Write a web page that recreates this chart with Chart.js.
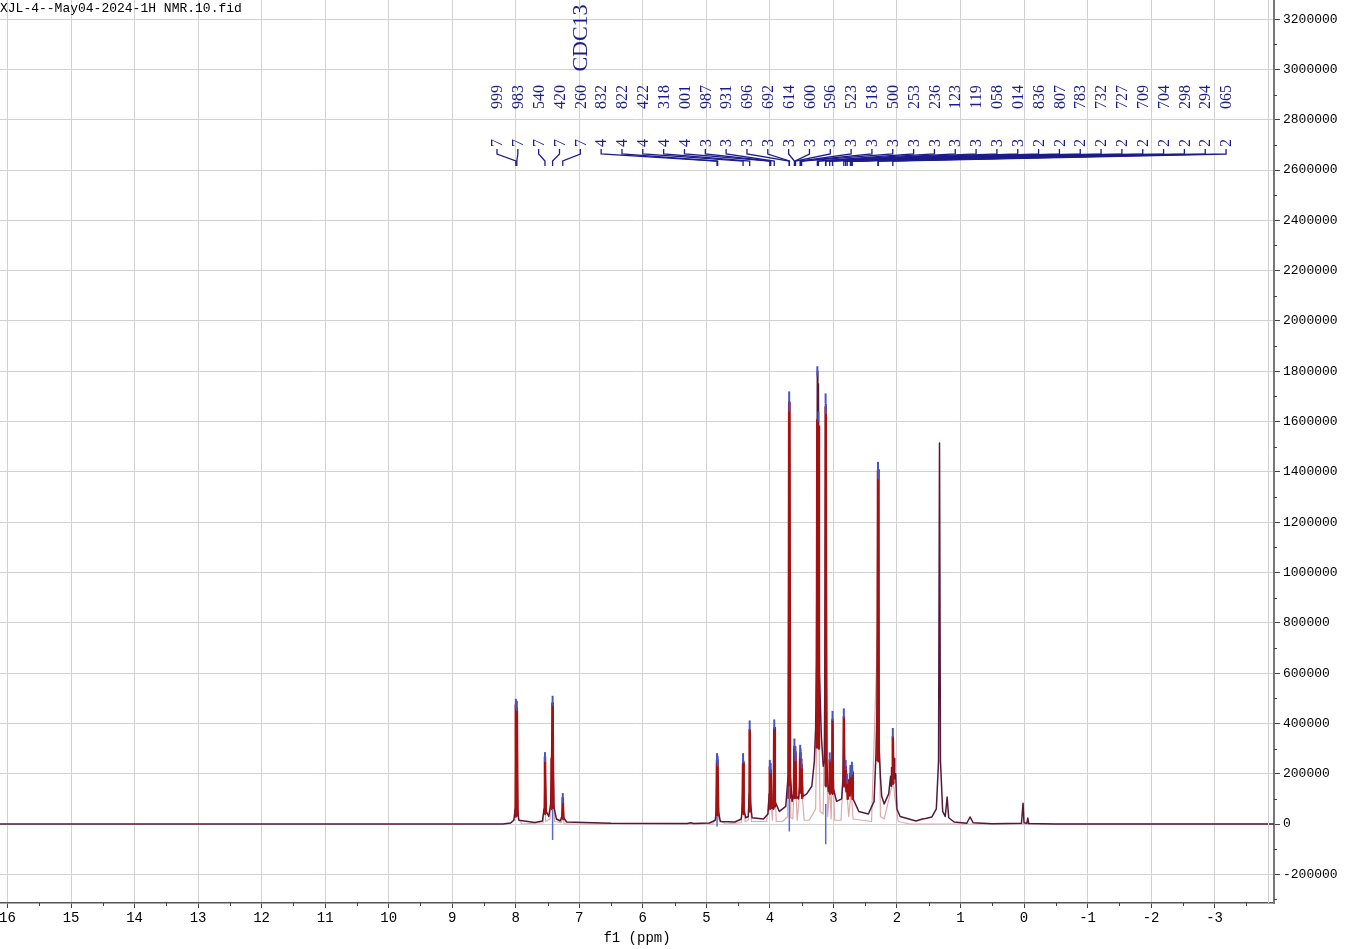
<!DOCTYPE html>
<html>
<head>
<meta charset="utf-8">
<script src="https://cdn.jsdelivr.net/npm/chart.js@4.4.1/dist/chart.umd.min.js"></script>
<style>
html, body { margin: 0; padding: 0; background: #fff; }
</style>
</head>
<body>
<canvas id="nmr" width="1360" height="949"></canvas>
<script>
const fileName = "XJL-4--May04-2024-1H NMR.10.fid";
const solventLabel = "CDC13";

// axis ticks
const ppmTicks = [16, 15, 14, 13, 12, 11, 10, 9, 8, 7, 6, 5, 4, 3, 2, 1, 0, -1, -2, -3];
const intensityTicks = [-200000, 0, 200000, 400000, 600000, 800000, 1000000, 1200000, 1400000, 1600000,
    1800000, 2000000, 2200000, 2400000, 2600000, 2800000, 3000000, 3200000];

// picked peaks (ppm) and their heights
const peakShifts = [7.999, 7.983, 7.540, 7.420, 7.260, 4.832, 4.822, 4.422, 4.318, 4.001, 3.987, 3.931,
    3.696, 3.692, 3.614, 3.600, 3.596, 3.523, 3.518, 3.500, 3.253, 3.236, 3.123, 3.119, 3.058, 3.014,
    2.836, 2.807, 2.783, 2.732, 2.727, 2.709, 2.704, 2.298, 2.294, 2.065];
const peakHeights = [478000, 470000, 266000, 490000, 103000, 262000, 250000, 262000, 392000, 235000, 222000, 396000,
    1700000, 1660000, 320000, 290000, 270000, 295000, 280000, 240000, 1800000, 1620000, 1692000, 1650000, 265000, 430000,
    440000, 235000, 180000, 215000, 205000, 228000, 215000, 1420000, 1390000, 362000];

// measured spectrum [ppm, intensity]
const spectrum = [
    [16.2, 0], [8.2, 0], [8.08, 4000], [8.03, 15000], [8.008, 60000], [7.999, 470000], [7.991, 120000],
    [7.983, 460000], [7.975, 60000], [7.95, 15000], [7.7, 6000], [7.58, 12000], [7.555, 60000],
    [7.545, 200000], [7.540, 266000], [7.532, 150000], [7.52, 50000], [7.48, 30000], [7.45, 80000],
    [7.435, 280000], [7.425, 480000], [7.415, 300000], [7.40, 70000], [7.36, 20000], [7.30, 12000],
    [7.275, 30000], [7.260, 103000], [7.245, 25000], [7.2, 8000], [6.5, 3000], [5.3, 2000], [5.25, 5000],
    [5.2, 2000], [4.95, 4000], [4.86, 15000], [4.84, 60000], [4.832, 254000], [4.827, 120000],
    [4.822, 240000], [4.81, 50000], [4.78, 10000], [4.55, 8000], [4.45, 20000], [4.43, 80000],
    [4.422, 250000], [4.41, 60000], [4.38, 25000], [4.34, 30000], [4.325, 120000], [4.318, 374000],
    [4.31, 90000], [4.28, 25000], [4.1, 20000], [4.03, 40000], [4.01, 120000], [4.001, 225000],
    [3.994, 130000], [3.987, 210000], [3.97, 70000], [3.95, 60000], [3.938, 120000], [3.931, 382000],
    [3.92, 90000], [3.85, 50000], [3.75, 70000], [3.71, 200000], [3.696, 1680000], [3.692, 1640000],
    [3.68, 200000], [3.65, 90000], [3.625, 120000], [3.614, 306000], [3.605, 200000], [3.600, 290000],
    [3.596, 266000], [3.58, 110000], [3.55, 100000], [3.53, 150000], [3.523, 282000], [3.518, 270000],
    [3.51, 160000], [3.500, 235000], [3.48, 110000], [3.42, 120000], [3.34, 150000], [3.30, 250000],
    [3.28, 380000], [3.265, 650000], [3.253, 1800000], [3.245, 1100000], [3.236, 1750000], [3.22, 600000],
    [3.19, 350000], [3.16, 230000], [3.14, 250000], [3.123, 1670000], [3.119, 1640000], [3.105, 250000],
    [3.08, 130000], [3.065, 150000], [3.058, 254000], [3.045, 130000], [3.025, 150000], [3.014, 420000],
    [3.0, 140000], [2.95, 90000], [2.87, 100000], [2.85, 180000], [2.836, 425000], [2.825, 200000],
    [2.807, 227000], [2.795, 150000], [2.783, 175000], [2.76, 110000], [2.745, 140000], [2.732, 200000],
    [2.727, 190000], [2.718, 140000], [2.709, 215000], [2.704, 205000], [2.69, 100000], [2.6, 50000],
    [2.45, 40000], [2.36, 90000], [2.33, 280000], [2.31, 500000], [2.298, 1410000], [2.294, 1380000],
    [2.28, 300000], [2.26, 187000], [2.24, 110000], [2.2, 80000], [2.13, 120000], [2.10, 190000],
    [2.09, 150000], [2.085, 225000], [2.075, 170000], [2.065, 346000], [2.055, 210000], [2.045, 260000],
    [2.035, 180000], [2.02, 200000], [2.0, 60000], [1.95, 30000], [1.7, 12000], [1.6, 20000],
    [1.55, 22000], [1.45, 28000], [1.38, 60000], [1.345, 250000], [1.33, 1515000], [1.315, 250000],
    [1.28, 50000], [1.24, 30000], [1.21, 107000], [1.185, 25000], [1.1, 8000], [0.9, 3000],
    [0.85, 28000], [0.8, 5000], [0.5, 1000], [0.04, 3000], [0.015, 83000], [0.0, 5000], [-0.045, 3000],
    [-0.06, 24000], [-0.075, 2000], [-0.5, 0], [-4.0, 0]
];

// fitted sum, drawn red
const fitted = [
    [8.01, 30000], [7.999, 473000], [7.991, 150000], [7.983, 460000], [7.972, 30000], [7.9, null],
    [7.55, 40000], [7.540, 266000], [7.53, 40000], [7.5, null],
    [7.445, 60000], [7.435, 260000], [7.428, 200000], [7.420, 480000], [7.41, 60000], [7.3, null],
    [7.268, 20000], [7.260, 103000], [7.252, 20000], [5.0, null],
    [4.842, 30000], [4.832, 254000], [4.827, 150000], [4.822, 240000], [4.812, 30000], [4.5, null],
    [4.43, 40000], [4.422, 240000], [4.414, 40000], [4.4, null],
    [4.326, 50000], [4.318, 374000], [4.31, 50000], [4.2, null],
    [4.01, 60000], [4.001, 227000], [3.994, 150000], [3.987, 215000], [3.978, 60000], [3.96, null],
    [3.94, 70000], [3.931, 382000], [3.922, 70000], [3.8, null],
    [3.705, 100000], [3.696, 1674000], [3.692, 1640000], [3.683, 100000], [3.65, null],
    [3.622, 100000], [3.614, 306000], [3.606, 180000], [3.600, 280000], [3.596, 266000], [3.588, 100000], [3.55, null],
    [3.53, 120000], [3.523, 282000], [3.518, 270000], [3.509, 150000], [3.500, 235000], [3.492, 100000], [3.4, null],
    [3.262, 300000], [3.253, 1606000], [3.245, 1300000], [3.236, 1580000], [3.228, 300000], [3.2, null],
    [3.13, 150000], [3.123, 1658000], [3.119, 1630000], [3.112, 150000], [3.09, null],
    [3.065, 120000], [3.058, 254000], [3.051, 120000], [3.03, null],
    [3.022, 120000], [3.014, 413000], [3.006, 120000], [2.9, null],
    [2.845, 150000], [2.836, 425000], [2.826, 150000], [2.807, 227000], [2.795, 130000], [2.783, 175000], [2.774, 100000], [2.76, null],
    [2.74, 110000], [2.732, 200000], [2.727, 190000], [2.718, 130000], [2.709, 215000], [2.704, 205000], [2.695, 100000], [2.5, null],
    [2.306, 250000], [2.298, 1407000], [2.294, 1380000], [2.286, 250000], [2.2, null],
    [2.075, 160000], [2.065, 346000], [2.055, 160000]
];

// single fitted components (pale)
const components = [
    [8.1, 0], [8.02, 20000], [7.999, 300000], [7.99, 100000], [7.983, 300000], [7.96, 20000], [7.9, 0],
    [7.57, 5000], [7.545, 150000], [7.53, 10000], [7.46, 20000], [7.42, 300000], [7.39, 10000], [7.28, 5000],
    [7.26, 60000], [7.24, 0], [4.9, 0], [4.84, 25000], [4.827, 180000], [4.81, 20000], [4.7, 0], [4.45, 5000],
    [4.422, 150000], [4.39, 10000], [4.34, 15000], [4.318, 250000], [4.29, 10000], [4.05, 10000], [4.0, 150000],
    [3.96, 15000], [3.931, 250000], [3.9, 10000], [3.8, 10000], [3.72, 30000], [3.694, 1000000], [3.67, 25000],
    [3.64, 20000], [3.605, 200000], [3.57, 15000], [3.512, 180000], [3.46, 15000], [3.38, 15000], [3.28, 60000],
    [3.245, 700000], [3.21, 50000], [3.16, 40000], [3.121, 900000], [3.09, 30000], [3.058, 150000], [3.035, 20000],
    [3.014, 250000], [2.98, 15000], [2.88, 15000], [2.836, 250000], [2.81, 130000], [2.783, 110000], [2.76, 30000],
    [2.72, 130000], [2.69, 20000], [2.4, 10000], [2.3, 800000], [2.26, 30000], [2.2, 20000], [2.08, 150000],
    [2.065, 200000], [2.04, 120000], [1.98, 10000], [1.8, 0], [-4.0, 0]
];

// residual dips (blue)
const residual = [
    [7.42, 60000], [7.42, -64000], [7.3, null], [4.832, 30000], [4.832, -10000], [4.0, null],
    [3.694, 150000], [3.694, -30000], [3.5, null], [3.121, 80000], [3.121, -80000]
];

const toXY = arr => arr.map(([x, y]) => ({ x, y }));
const NAVY = "#1c1c8c";

const labelsPlugin = {
    id: "labels",
    afterDraw(chart) {
        const { ctx, chartArea, scales: { x, y } } = chart;
        ctx.save();
        ctx.fillStyle = "#000";
        ctx.font = '13px "Liberation Mono"';
        ctx.textBaseline = "middle";
        ctx.fillText(fileName, 0, 9);

        // peak labels, rotated
        ctx.fillStyle = NAVY;
        ctx.strokeStyle = NAVY;
        ctx.lineWidth = 1.3;
        ctx.textAlign = "center";
        ctx.font = '16px "Liberation Serif"';
        peakShifts.forEach((p, i) => {
            const lx = 497 + i * 20.83;
            const [ip, dp] = p.toFixed(3).split(".");
            ctx.save();
            ctx.translate(lx, 97);
            ctx.rotate(-Math.PI / 2);
            ctx.fillText(dp, 0, 1);
            ctx.restore();
            ctx.save();
            ctx.translate(lx, 143);
            ctx.rotate(-Math.PI / 2);
            ctx.fillText(ip, 0, 1);
            ctx.restore();
            const px = x.getPixelForValue(p);
            ctx.beginPath();
            ctx.moveTo(lx, 149);
            ctx.lineTo(lx, 154);
            ctx.lineTo(px, 161);
            ctx.lineTo(px, 166);
            ctx.stroke();
        });
        ctx.save();
        ctx.font = '22px "Liberation Serif"';
        ctx.translate(580, 38);
        ctx.rotate(-Math.PI / 2);
        ctx.fillText(solventLabel, 0, 1);
        ctx.restore();

        // plot frame edge
        ctx.strokeStyle = "#cfcfcf";
        ctx.lineWidth = 1;
        ctx.beginPath();
        ctx.moveTo(chartArea.right - 5.5, chartArea.top);
        ctx.lineTo(chartArea.right - 5.5, chartArea.bottom);
        ctx.stroke();

        // minor ticks
        ctx.strokeStyle = "#444";
        ctx.beginPath();
        for (let v = -3.5; v < 16.1; v += 1) {
            const px = Math.round(x.getPixelForValue(v)) + 0.5;
            ctx.moveTo(px, chartArea.bottom);
            ctx.lineTo(px, chartArea.bottom + 3);
        }
        for (let v = -300000; v < 3300000; v += 200000) {
            const py = Math.round(y.getPixelForValue(v)) + 0.5;
            if (py < chartArea.top || py > chartArea.bottom) continue;
            ctx.moveTo(chartArea.right, py);
            ctx.lineTo(chartArea.right + 3, py);
        }
        ctx.stroke();
        ctx.restore();
    }
};

new Chart(document.getElementById("nmr"), {
    type: "line",
    data: {
        datasets: [
            {
                type: "scatter",
                data: peakShifts.map((p, i) => ({ x: p, y: peakHeights[i] })),
                pointStyle: "line",
                rotation: 90,
                pointRadius: 5,
                borderColor: "#4455c8",
                pointBorderWidth: 2,
                showLine: false,
                order: 0
            },
            {
                data: toXY(residual),
                borderColor: "#5a6ad0",
                borderWidth: 1.5,
                pointRadius: 0,
                spanGaps: false,
                order: 1
            },
            {
                data: toXY(fitted),
                borderColor: "#a51010",
                borderWidth: 2.5,
                pointRadius: 0,
                spanGaps: false,
                borderJoinStyle: "round",
                order: 2
            },
            {
                data: toXY(spectrum),
                borderColor: "#55183a",
                borderWidth: 1.5,
                pointRadius: 0,
                borderJoinStyle: "round",
                order: 3
            },
            {
                data: toXY(components),
                borderColor: "#dcaaaa",
                borderWidth: 1.2,
                pointRadius: 0,
                borderJoinStyle: "round",
                order: 4
            }
        ]
    },
    options: {
        responsive: false,
        animation: false,
        events: [],
        layout: { padding: 0, autoPadding: false },
        plugins: { legend: { display: false }, tooltip: { enabled: false } },
        scales: {
            x: {
                type: "linear",
                reverse: true,
                min: -3.935,
                max: 16.118,
                afterBuildTicks: s => { s.ticks = ppmTicks.map(v => ({ value: v })); },
                afterFit: s => { s.height = 46; s.paddingLeft = 0; s.paddingRight = 0; },
                ticks: {
                    autoSkip: false,
                    maxRotation: 0,
                    padding: 2,
                    color: "#000",
                    font: { family: "Liberation Mono", size: 14 },
                    callback: v => String(v)
                },
                grid: { color: "#d2d2d2", tickColor: "#444", tickLength: 5 },
                border: { color: "#555", width: 1.5 },
                title: {
                    display: true,
                    text: "f1 (ppm)",
                    color: "#000",
                    padding: { top: 0, bottom: 2 },
                    font: { family: "Liberation Mono", size: 14 }
                }
            },
            y: {
                position: "right",
                min: -314000,
                max: 3276000,
                afterBuildTicks: s => { s.ticks = intensityTicks.map(v => ({ value: v })); },
                afterFit: s => { s.width = 86; s.paddingTop = 0; s.paddingBottom = 0; },
                ticks: {
                    autoSkip: false,
                    padding: 3,
                    color: "#000",
                    font: { family: "Liberation Mono", size: 13 },
                    callback: v => String(v)
                },
                grid: { color: "#d2d2d2", tickColor: "#444", tickLength: 6 },
                border: { color: "#777", width: 2 }
            }
        }
    },
    plugins: [labelsPlugin]
});
</script>
</body>
</html>
